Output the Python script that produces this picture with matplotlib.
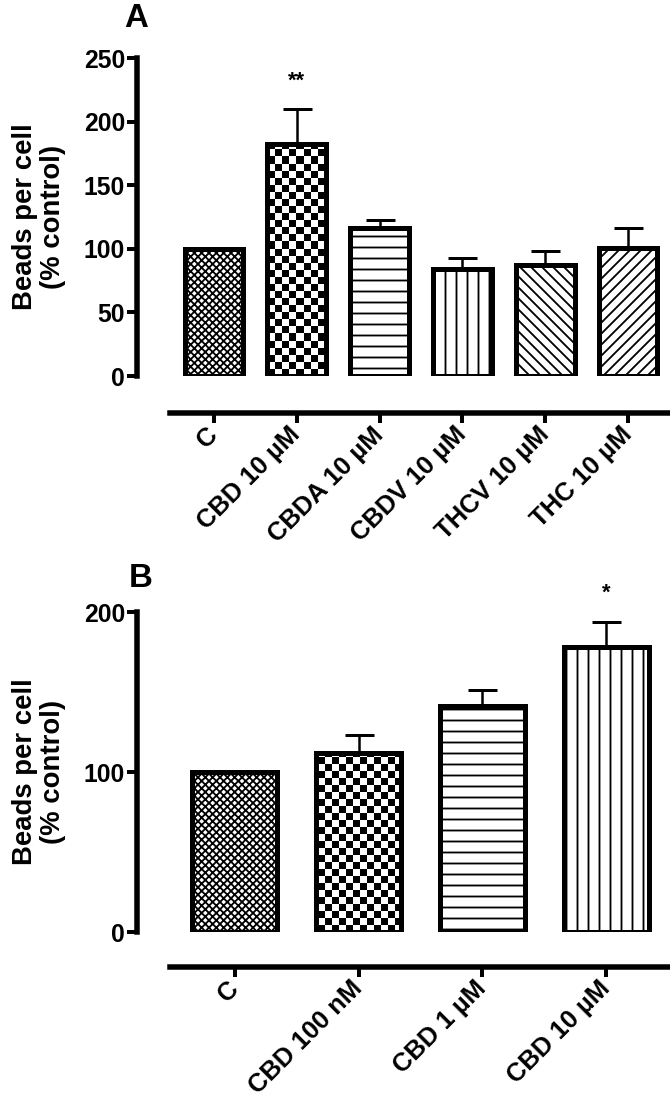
import numpy as np
import matplotlib.pyplot as plt

plt.rcParams['font.family'] = ['Liberation Sans', 'DejaVu Sans']
plt.rcParams['font.weight'] = 'bold'
plt.rcParams['hatch.linewidth'] = 2.0

# data
labels_a = ['C', 'CBD 10 µM', 'CBDA 10 µM', 'CBDV 10 µM', 'THCV 10 µM', 'THC 10 µM']
means_a = [100, 182, 116, 84, 87, 101]
sem_a = [0, 28, 7, 9, 11, 15]
sig_a = ['', '**', '', '', '', '']
fills_a = ['fine', 'checker', '-', '|', '\\\\', '//']

labels_b = ['C', 'CBD 100 nM', 'CBD 1 µM', 'CBD 10 µM']
means_b = [100, 112, 141, 178]
sem_b = [0, 11, 10, 16]
sig_b = ['', '', '', '*']
fills_b = ['fine', 'checker', '-', '|']

DPI = 66
W, H = 670, 1112


def pt(v):
    # pixels -> points
    return v * 72.0 / DPI


fig = plt.figure(figsize=(W / DPI, H / DPI), dpi=DPI)


def axes_px(left, top, right, bottom):
    return fig.add_axes([left / W, 1 - bottom / H, (right - left) / W, (bottom - top) / H])


def add_checker(ax, bar, cell):
    x0, x1 = ax.get_xlim()
    y0, y1 = ax.get_ylim()
    pos = ax.get_position()
    nx = int(round(pos.width * W / cell))
    ny = int(round(pos.height * H / cell))
    tex = np.indices((ny, nx)).sum(axis=0) % 2
    im = ax.imshow(tex, cmap='gray', vmin=0, vmax=1, extent=(x0, x1, y0, y1),
                   aspect='auto', interpolation='nearest', zorder=2.5)
    im.set_clip_path(bar)


def panel(ax, labels, means, sem, sig, fills, xlim, ylim, yticks, width, bottom_out):
    x = np.arange(len(labels))
    ax.set_xlim(xlim)
    ax.set_ylim(ylim)

    m = np.array(sem) > 0
    ax.errorbar(x[m], np.array(means)[m], yerr=[np.zeros(m.sum()), np.array(sem)[m]],
                fmt='none', ecolor='black', elinewidth=pt(2.5), capsize=pt(14.5),
                capthick=pt(3), zorder=1)

    bars = ax.bar(x, means, width=width, color='white', edgecolor='black',
                  linewidth=pt(5), zorder=2)
    for bar, f in zip(bars, fills):
        if f == 'fine':
            bar.set_hatch('xxx')
        elif f == 'checker':
            add_checker(ax, bar, 7)
        else:
            bar.set_hatch(f)
    outl = ax.bar(x, means, width=width, fill=False, edgecolor='black',
                  linewidth=pt(5), zorder=3)
    for b in outl:
        b.set_joinstyle('round')
    ax.set_xlim(xlim)
    ax.set_ylim(ylim)

    for xi, mu, e, s in zip(x, means, sem, sig):
        if s:
            ax.annotate(s, (xi, mu + e), xytext=(0, pt(28)), textcoords='offset points',
                        ha='center', va='center', fontsize=24, fontweight='bold')

    for side in ['top', 'right']:
        ax.spines[side].set_visible(False)
    ax.spines['left'].set_position(('outward', pt(33)))
    ax.spines['bottom'].set_position(('outward', pt(bottom_out)))
    for side in ['left', 'bottom']:
        ax.spines[side].set_linewidth(pt(5.5))

    ax.set_yticks(yticks)
    ax.set_xticks(x)
    ax.set_xticklabels(labels, rotation=45, ha='right', va='center', rotation_mode='anchor')
    ax.tick_params(axis='both', length=pt(10), width=pt(4), direction='out')
    ax.tick_params(axis='y', labelsize=27, pad=pt(2))
    ax.tick_params(axis='x', labelsize=28, pad=pt(8))
    ax.set_ylabel('Beads per cell\n(% control)', fontsize=30, fontweight='bold',
                  linespacing=1.1)
    ax.yaxis.set_label_coords((66 - 170) / 500, 0.5)
    ax.set_facecolor('none')


ax_a = axes_px(170, 58, 670, 376)
panel(ax_a, labels_a, means_a, sem_a, sig_a, fills_a,
      (-0.531, 5.507), (0, 250), [0, 50, 100, 150, 200, 250], 0.71, 37)

ax_b = axes_px(170, 612, 670, 932)
panel(ax_b, labels_b, means_b, sem_b, sig_b, fills_b,
      (-0.525, 3.517), (0, 200), [0, 100, 200], 0.687, 35)

fig.text(124 / W, 1 - 3 / H, 'A', fontsize=36, fontweight='bold', ha='left', va='top')
fig.text(129 / W, 1 - 563 / H, 'B', fontsize=36, fontweight='bold', ha='left', va='top')

fig.savefig('out.png', dpi=DPI)
